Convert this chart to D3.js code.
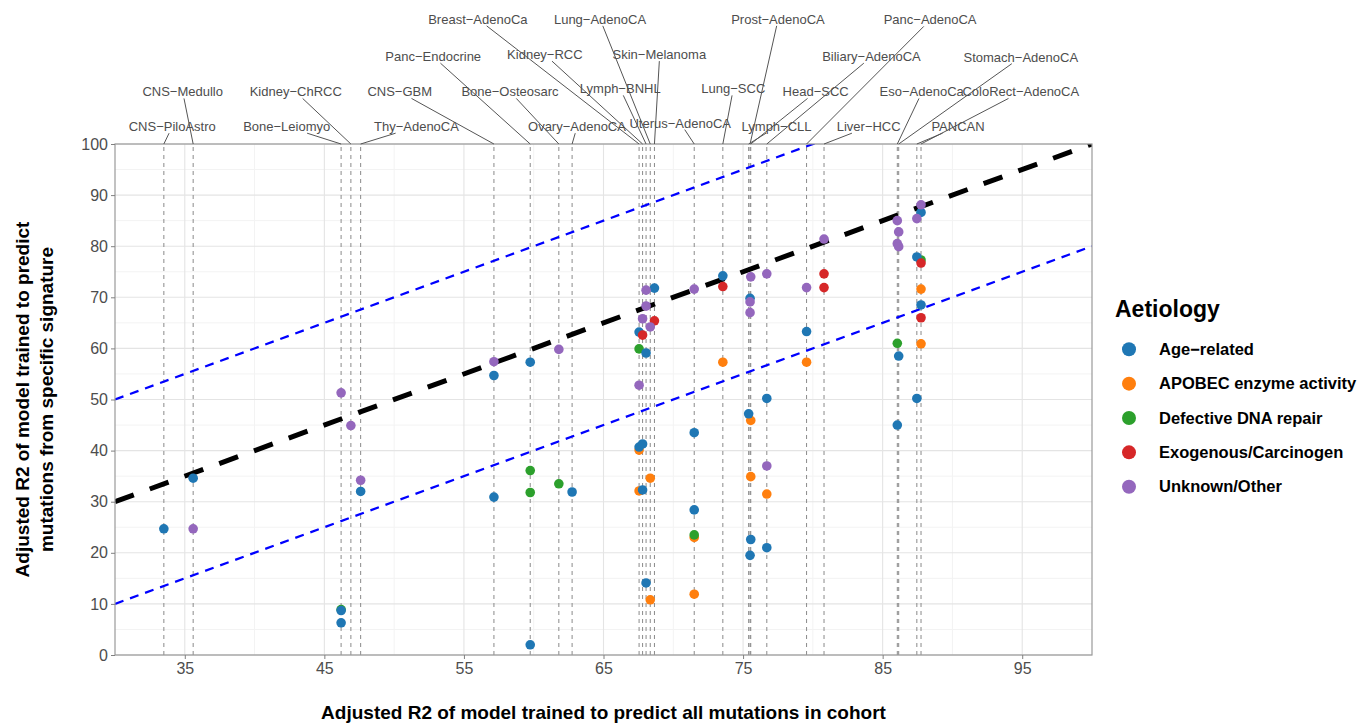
<!DOCTYPE html>
<html lang="en">
<head>
<meta charset="utf-8">
<title>Signature R2 vs cohort R2</title>
<style>
  body { margin: 0; background: #fff; }
  text { font-family: "Liberation Sans", Arial, sans-serif; }
  .axis text { fill: #4d4d4d; font-size: 16px; }
  .axis line { stroke: #808080; }
  .lab { fill: #4d4d4d; font-size: 13px; }
</style>
</head>
<body>
<script src="https://cdn.jsdelivr.net/npm/d3@7/dist/d3.min.js"></script>
<script>
// cohorts and their R2 for all mutations (x axis)
var cohorts = ["CNS-PiloAstro", "CNS-Medullo", "Bone-Leiomyo", "Kidney-ChRCC", "Thy-AdenoCA",
  "CNS-GBM", "Panc-Endocrine", "Bone-Osteosarc", "Ovary-AdenoCA", "Breast-AdenoCa",
  "Kidney-RCC", "Lymph-BNHL", "Lung-AdenoCA", "Skin-Melanoma", "Uterus-AdenoCA",
  "Lung-SCC", "Lymph-CLL", "Prost-AdenoCA", "Head-SCC", "Biliary-AdenoCA",
  "Panc-AdenoCA", "Liver-HCC", "Eso-AdenoCa", "Stomach-AdenoCA", "PANCAN", "ColoRect-AdenoCA"];
var cohortR2 = [33.5, 35.6, 46.2, 46.9, 47.6,
  57.15, 59.75, 61.8, 62.75, 67.55,
  67.8, 68.05, 68.35, 68.65, 71.5,
  73.55, 75.4, 75.5, 75.55, 76.7,
  79.55, 80.8, 86.05, 86.15, 87.45, 87.75];

// signature-specific R2 (y axis), grouped by aetiology: [cohort, R2]
var ageRelated = [["CNS-PiloAstro", 24.7], ["CNS-Medullo", 34.6], ["Bone-Leiomyo", 8.7], ["Bone-Leiomyo", 6.3],
  ["Thy-AdenoCA", 32.0], ["CNS-GBM", 54.7], ["CNS-GBM", 30.9], ["Panc-Endocrine", 57.3], ["Panc-Endocrine", 2.0],
  ["Ovary-AdenoCA", 31.9], ["Breast-AdenoCa", 63.2], ["Breast-AdenoCa", 40.7], ["Kidney-RCC", 41.3],
  ["Kidney-RCC", 32.3], ["Lymph-BNHL", 59.1], ["Lymph-BNHL", 14.1], ["Skin-Melanoma", 71.8],
  ["Uterus-AdenoCA", 43.5], ["Uterus-AdenoCA", 28.4], ["Lung-SCC", 74.2], ["Lymph-CLL", 47.2],
  ["Prost-AdenoCA", 69.8], ["Prost-AdenoCA", 19.5], ["Head-SCC", 22.6], ["Biliary-AdenoCA", 50.2],
  ["Biliary-AdenoCA", 21.0], ["Panc-AdenoCA", 63.3], ["Eso-AdenoCa", 45.0], ["Stomach-AdenoCA", 58.5],
  ["PANCAN", 77.9], ["PANCAN", 50.2], ["ColoRect-AdenoCA", 86.6], ["ColoRect-AdenoCA", 68.5]];
var apobec = [["Breast-AdenoCa", 40.1], ["Breast-AdenoCa", 32.1], ["Lung-AdenoCA", 34.6], ["Lung-AdenoCA", 10.8],
  ["Uterus-AdenoCA", 23.0], ["Uterus-AdenoCA", 11.9], ["Lung-SCC", 57.3], ["Head-SCC", 45.9], ["Head-SCC", 34.9],
  ["Biliary-AdenoCA", 31.5], ["Panc-AdenoCA", 57.3], ["ColoRect-AdenoCA", 71.6], ["ColoRect-AdenoCA", 60.9]];
var dnaRepair = [["Bone-Leiomyo", 8.9], ["Panc-Endocrine", 36.1], ["Panc-Endocrine", 31.8], ["Bone-Osteosarc", 33.5],
  ["Breast-AdenoCa", 59.9], ["Uterus-AdenoCA", 23.5], ["Eso-AdenoCa", 61.0], ["ColoRect-AdenoCA", 77.3]];
var exogenous = [["Kidney-RCC", 62.6], ["Skin-Melanoma", 65.4], ["Lung-SCC", 72.1], ["Liver-HCC", 74.6],
  ["Liver-HCC", 71.9], ["ColoRect-AdenoCA", 76.7], ["ColoRect-AdenoCA", 66.0]];
var unknown = [["CNS-Medullo", 24.7], ["Bone-Leiomyo", 51.3], ["Kidney-ChRCC", 44.9], ["Thy-AdenoCA", 34.2],
  ["CNS-GBM", 57.4], ["Bone-Osteosarc", 59.8], ["Breast-AdenoCa", 52.8], ["Kidney-RCC", 65.8],
  ["Lymph-BNHL", 71.4], ["Lymph-BNHL", 68.3], ["Lung-AdenoCA", 64.2], ["Uterus-AdenoCA", 71.6],
  ["Head-SCC", 74.0], ["Prost-AdenoCA", 69.1], ["Prost-AdenoCA", 67.0], ["Biliary-AdenoCA", 74.6],
  ["Biliary-AdenoCA", 37.0], ["Panc-AdenoCA", 71.9], ["Liver-HCC", 81.4], ["Eso-AdenoCa", 85.0],
  ["Eso-AdenoCa", 80.5], ["Stomach-AdenoCA", 82.8], ["Stomach-AdenoCA", 79.9], ["PANCAN", 85.4],
  ["ColoRect-AdenoCA", 88.1]];

var aetiologies = ["Age-related", "APOBEC enzyme activity", "Defective DNA repair", "Exogenous/Carcinogen", "Unknown/Other"];
var aetiologyColours = ["#1f77b4", "#ff7f0e", "#2ca02c", "#d62728", "#9467bd"];

var xTicks = [35, 45, 55, 65, 75, 85, 95];
var yTicks = [0, 10, 20, 30, 40, 50, 60, 70, 80, 90, 100];

// where the repelled cohort labels sit (data units, above the panel)
var labelPos = {
  "Breast-AdenoCa": [56.0, 124.4], "Lung-AdenoCA": [64.75, 124.4], "Prost-AdenoCA": [77.5, 124.4],
  "Panc-AdenoCA": [88.4, 124.3], "Panc-Endocrine": [52.8, 117.1], "Kidney-RCC": [60.8, 117.5],
  "Skin-Melanoma": [69.0, 117.5], "Biliary-AdenoCA": [84.2, 117.1], "Stomach-AdenoCA": [94.9, 117.0],
  "CNS-Medullo": [34.85, 110.2], "Kidney-ChRCC": [42.95, 110.2], "CNS-GBM": [50.4, 110.2],
  "Bone-Osteosarc": [58.3, 110.2], "Lymph-BNHL": [66.2, 110.8], "Lung-SCC": [74.3, 110.8],
  "Head-SCC": [80.2, 110.2], "Eso-AdenoCa": [87.8, 110.2], "ColoRect-AdenoCA": [94.9, 110.2],
  "CNS-PiloAstro": [34.1, 103.4], "Bone-Leiomyo": [42.3, 103.4], "Thy-AdenoCA": [51.6, 103.4],
  "Ovary-AdenoCA": [63.1, 103.4], "Uterus-AdenoCA": [70.5, 104.1], "Lymph-CLL": [77.4, 103.4],
  "Liver-HCC": [84.0, 103.4], "PANCAN": [90.4, 103.4]
};

var W = 1362, H = 724;
// panel edges (note: "top" is a reserved window global, so prefixed names)
var pLeft = 115, pRight = 1092, pTop = 144, pBottom = 655;

var svg = d3.select("body").append("svg")
  .attr("width", W)
  .attr("height", H);

var x = d3.scaleLinear().domain([30, 100]).range([pLeft, pRight]);
var y = d3.scaleLinear().domain([0, 100]).range([pBottom, pTop]);
var colour = d3.scaleOrdinal().domain(aetiologies).range(aetiologyColours);
var fmt = function(s) { return s.replace(/-/g, "\u2212"); };

var cohortX = {};
cohorts.forEach(function(c, i) { cohortX[c] = cohortR2[i]; });

// grid, minor first
var xMinor = xTicks.slice(0, -1).map(function(d) { return d + 5; });
var yMinor = yTicks.slice(0, -1).map(function(d) { return d + 5; });
var grid = svg.append("g");
grid.selectAll(".vmin").data(xMinor).enter().append("line")
  .attr("x1", function(d) { return x(d); }).attr("x2", function(d) { return x(d); })
  .attr("y1", pTop).attr("y2", pBottom)
  .attr("stroke", "#f3f3f3").attr("stroke-width", 1);
grid.selectAll(".hmin").data(yMinor).enter().append("line")
  .attr("y1", function(d) { return y(d); }).attr("y2", function(d) { return y(d); })
  .attr("x1", pLeft).attr("x2", pRight)
  .attr("stroke", "#f3f3f3").attr("stroke-width", 1);
grid.selectAll(".vmaj").data(xTicks).enter().append("line")
  .attr("x1", function(d) { return x(d); }).attr("x2", function(d) { return x(d); })
  .attr("y1", pTop).attr("y2", pBottom)
  .attr("stroke", "#e4e4e4").attr("stroke-width", 1.1);
grid.selectAll(".hmaj").data(yTicks).enter().append("line")
  .attr("y1", function(d) { return y(d); }).attr("y2", function(d) { return y(d); })
  .attr("x1", pLeft).attr("x2", pRight)
  .attr("stroke", "#e4e4e4").attr("stroke-width", 1.1);

svg.append("clipPath").attr("id", "panel")
  .append("rect").attr("x", pLeft).attr("y", pTop).attr("width", pRight - pLeft).attr("height", pBottom - pTop);

var plot = svg.append("g").attr("clip-path", "url(#panel)");

// one dashed vertical per cohort
plot.selectAll(".vline").data(cohorts).enter().append("line")
  .attr("x1", function(c) { return x(cohortX[c]); })
  .attr("x2", function(c) { return x(cohortX[c]); })
  .attr("y1", y(0)).attr("y2", y(100))
  .attr("stroke", "#8a8a8a").attr("stroke-width", 1)
  .attr("stroke-dasharray", "4,4");

// reference lines: y = x and y = x +/- 20
var refLines = [
  { off: 20, col: "#0000ff", w: 2.2, dash: "9,7" },
  { off: -20, col: "#0000ff", w: 2.2, dash: "9,7" },
  { off: 0, col: "#000", w: 5, dash: "20,17" }
];
plot.selectAll(".ref").data(refLines).enter().append("line")
  .attr("x1", x(30)).attr("y1", function(d) { return y(30 + d.off); })
  .attr("x2", x(100)).attr("y2", function(d) { return y(100 + d.off); })
  .attr("stroke", function(d) { return d.col; })
  .attr("stroke-width", function(d) { return d.w; })
  .attr("stroke-dasharray", function(d) { return d.dash; });

// points
var groups = [[apobec, 1], [dnaRepair, 2], [ageRelated, 0], [exogenous, 3], [unknown, 4]];
var points = [];
groups.forEach(function(g) {
  g[0].forEach(function(p) { points.push({ cohort: p[0], r2: p[1], aet: aetiologies[g[1]] }); });
});
svg.append("g").selectAll("circle").data(points).enter().append("circle")
  .attr("cx", function(d) { return x(cohortX[d.cohort]); })
  .attr("cy", function(d) { return y(d.r2); })
  .attr("r", 4.8)
  .attr("fill", function(d) { return colour(d.aet); });

// panel border
svg.append("rect")
  .attr("x", pLeft).attr("y", pTop).attr("width", pRight - pLeft).attr("height", pBottom - pTop)
  .attr("fill", "none").attr("stroke", "#9a9a9a").attr("stroke-width", 1.2);

// axes
var xAxis = d3.axisBottom(x).tickValues(xTicks).tickSize(4).tickPadding(4);
var yAxis = d3.axisLeft(y).tickValues(yTicks).tickSize(4).tickPadding(3);
svg.append("g").attr("class", "axis")
  .attr("transform", "translate(0," + pBottom + ")")
  .call(xAxis)
  .call(function(g) { g.select(".domain").remove(); });
svg.append("g").attr("class", "axis")
  .attr("transform", "translate(" + pLeft + ",0)")
  .call(yAxis)
  .call(function(g) { g.select(".domain").remove(); });
svg.selectAll(".axis text").attr("font-family", null).style("font-size", "16px");

// titles
svg.append("text")
  .attr("x", (pLeft + pRight) / 2).attr("y", 719)
  .attr("text-anchor", "middle")
  .style("font-size", "19px").style("font-weight", "bold")
  .text("Adjusted R2 of model trained to predict all mutations in cohort");
var yt = svg.append("text")
  .attr("transform", "translate(0," + ((pTop + pBottom) / 2) + ") rotate(-90)")
  .attr("text-anchor", "middle")
  .style("font-size", "19px").style("font-weight", "bold");
yt.append("tspan").attr("x", 0).attr("y", 29).text("Adjusted R2 of model trained to predict");
yt.append("tspan").attr("x", 0).attr("y", 53).text("mutations from specific signature");

// cohort labels with leader segments
var labG = svg.append("g");
var segG = svg.append("g");
cohorts.forEach(function(c) {
  var lp = labelPos[c];
  var t = labG.append("text").attr("class", "lab")
    .attr("x", x(lp[0])).attr("y", y(lp[1]))
    .attr("text-anchor", "middle").attr("dy", "0.35em")
    .text(fmt(c));
  var bb = t.node().getBBox();
  var cx = bb.x + bb.width / 2, cy = bb.y + bb.height / 2;
  var tx = x(cohortX[c]), ty = y(100);
  var dx = tx - cx, dy = ty - cy;
  var hw = bb.width / 2 + 1, hh = bb.height / 2 - 1;
  var s = Math.min(Math.abs(dx) > 0 ? hw / Math.abs(dx) : 1e9, Math.abs(dy) > 0 ? hh / Math.abs(dy) : 1e9);
  if (s < 1) {
    segG.append("line")
      .attr("x1", cx + dx * s).attr("y1", cy + dy * s)
      .attr("x2", tx).attr("y2", ty)
      .attr("stroke", "#555").attr("stroke-width", 1);
  }
});

// legend
var leg = svg.append("g");
leg.append("text").attr("x", 1115).attr("y", 317)
  .style("font-size", "23px").style("font-weight", "bold")
  .text("Aetiology");
var items = leg.selectAll(".item").data(aetiologies).enter().append("g")
  .attr("transform", function(d, i) { return "translate(1129," + (349.3 + i * 34.35) + ")"; });
items.append("circle").attr("r", 7).attr("fill", function(d) { return colour(d); });
items.append("text").attr("x", 30).attr("dy", "0.35em")
  .style("font-size", "16.5px").style("font-weight", "bold")
  .text(function(d) { return fmt(d); });
</script>
</body>
</html>
